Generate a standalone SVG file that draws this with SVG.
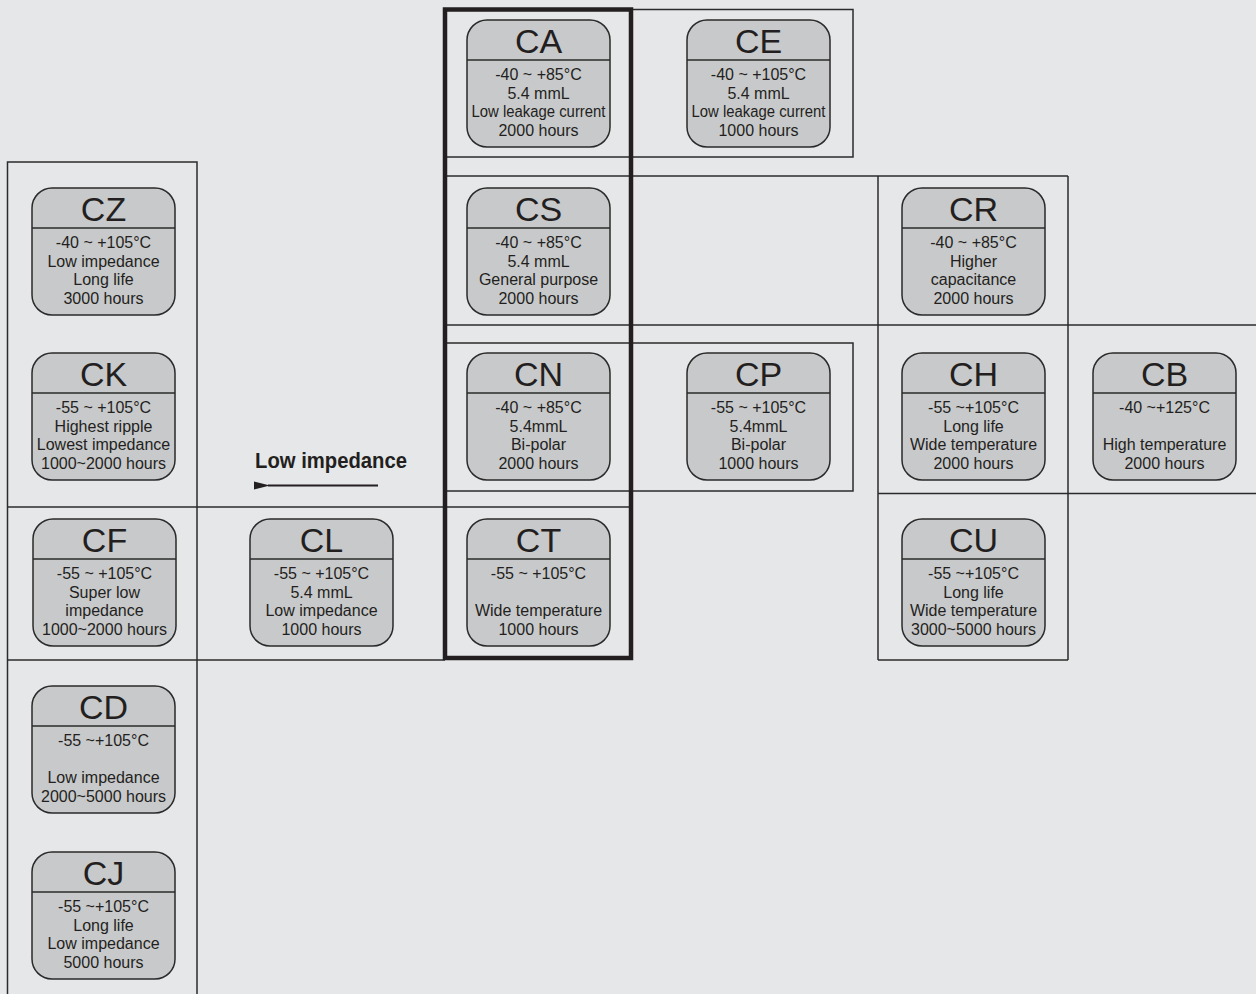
<svg xmlns="http://www.w3.org/2000/svg" width="1256" height="994" viewBox="0 0 1256 994">
<style>
.bg{fill:#e6e7e9}
.fr{fill:none;stroke:#2b2b2b;stroke-width:1.5}
.thick{fill:none;stroke:#231f20;stroke-width:4.5}
.node rect{fill:#c8c9cb;stroke:#2a2a2a;stroke-width:1.5}
.node line{stroke:#2a2a2a;stroke-width:1.5}
.t{font-family:"Liberation Sans",Arial,Helvetica,sans-serif;font-size:34px;fill:#231f20;text-anchor:middle}
.b{font-family:"Liberation Sans",Arial,Helvetica,sans-serif;font-size:16px;fill:#231f20;text-anchor:middle}
.lbl{font-family:"Liberation Sans",Arial,Helvetica,sans-serif;font-size:22px;font-weight:bold;fill:#231f20;text-anchor:middle}
</style>
<defs>
<marker id="ah" markerWidth="8" markerHeight="4" refX="1" refY="2" orient="auto" markerUnits="strokeWidth" overflow="visible">
<path d="M8,0 L0,2 L8,4 Z" fill="#231f20"/>
</marker>
</defs>
<rect class="bg" x="0" y="0" width="1256" height="994"/>
<g id="frames">
<rect class="fr" x="7.5" y="162" width="189.5" height="840"/>
<line class="fr" x1="7.5" y1="507" x2="631" y2="507"/>
<line class="fr" x1="7.5" y1="660" x2="445" y2="660"/>
<rect class="fr" x="445" y="9.5" width="408" height="147.5"/>
<line class="fr" x1="445" y1="176" x2="1068" y2="176"/>
<line class="fr" x1="445" y1="325" x2="1256" y2="325"/>
<rect class="fr" x="445" y="343" width="408" height="148"/>
<line class="fr" x1="878" y1="176" x2="878" y2="660"/>
<line class="fr" x1="1068" y1="176" x2="1068" y2="660"/>
<line class="fr" x1="878" y1="493.5" x2="1256" y2="493.5"/>
<line class="fr" x1="878" y1="660" x2="1068" y2="660"/>
<rect class="thick" x="445" y="9.5" width="186" height="648.5"/>
</g>
<g id="connectors">
<line x1="378" y1="485.5" x2="268" y2="485.5" stroke="#231f20" stroke-width="2" marker-end="url(#ah)"/>
<text class="lbl" x="331" y="468" textLength="152" lengthAdjust="spacingAndGlyphs">Low impedance</text>
</g>
<g id="CA" class="node" transform="translate(467,20)">
<rect width="143" height="127" rx="20"/><line x1="0" y1="40" x2="143" y2="40"/>
<text class="t" x="71.5" y="33">CA</text>
<text class="b" x="71.5" y="60">-40 ~ +85°C</text>
<text class="b" x="71.5" y="78.7">5.4 mmL</text>
<text class="b" x="71.5" y="97.3" textLength="134" lengthAdjust="spacingAndGlyphs">Low leakage current</text>
<text class="b" x="71.5" y="116">2000 hours</text>
</g>
<g id="CE" class="node" transform="translate(687,20)">
<rect width="143" height="127" rx="20"/><line x1="0" y1="40" x2="143" y2="40"/>
<text class="t" x="71.5" y="33">CE</text>
<text class="b" x="71.5" y="60">-40 ~ +105°C</text>
<text class="b" x="71.5" y="78.7">5.4 mmL</text>
<text class="b" x="71.5" y="97.3" textLength="134" lengthAdjust="spacingAndGlyphs">Low leakage current</text>
<text class="b" x="71.5" y="116">1000 hours</text>
</g>
<g id="CZ" class="node" transform="translate(32,188)">
<rect width="143" height="127" rx="20"/><line x1="0" y1="40" x2="143" y2="40"/>
<text class="t" x="71.5" y="33">CZ</text>
<text class="b" x="71.5" y="60">-40 ~ +105°C</text>
<text class="b" x="71.5" y="78.7">Low impedance</text>
<text class="b" x="71.5" y="97.3">Long life</text>
<text class="b" x="71.5" y="116">3000 hours</text>
</g>
<g id="CS" class="node" transform="translate(467,188)">
<rect width="143" height="127" rx="20"/><line x1="0" y1="40" x2="143" y2="40"/>
<text class="t" x="71.5" y="33">CS</text>
<text class="b" x="71.5" y="60">-40 ~ +85°C</text>
<text class="b" x="71.5" y="78.7">5.4 mmL</text>
<text class="b" x="71.5" y="97.3">General purpose</text>
<text class="b" x="71.5" y="116">2000 hours</text>
</g>
<g id="CR" class="node" transform="translate(902,188)">
<rect width="143" height="127" rx="20"/><line x1="0" y1="40" x2="143" y2="40"/>
<text class="t" x="71.5" y="33">CR</text>
<text class="b" x="71.5" y="60">-40 ~ +85°C</text>
<text class="b" x="71.5" y="78.7">Higher</text>
<text class="b" x="71.5" y="97.3">capacitance</text>
<text class="b" x="71.5" y="116">2000 hours</text>
</g>
<g id="CK" class="node" transform="translate(32,353)">
<rect width="143" height="127" rx="20"/><line x1="0" y1="40" x2="143" y2="40"/>
<text class="t" x="71.5" y="33">CK</text>
<text class="b" x="71.5" y="60">-55 ~ +105°C</text>
<text class="b" x="71.5" y="78.7">Highest ripple</text>
<text class="b" x="71.5" y="97.3">Lowest impedance</text>
<text class="b" x="71.5" y="116">1000~2000 hours</text>
</g>
<g id="CN" class="node" transform="translate(467,353)">
<rect width="143" height="127" rx="20"/><line x1="0" y1="40" x2="143" y2="40"/>
<text class="t" x="71.5" y="33">CN</text>
<text class="b" x="71.5" y="60">-40 ~ +85°C</text>
<text class="b" x="71.5" y="78.7">5.4mmL</text>
<text class="b" x="71.5" y="97.3">Bi-polar</text>
<text class="b" x="71.5" y="116">2000 hours</text>
</g>
<g id="CP" class="node" transform="translate(687,353)">
<rect width="143" height="127" rx="20"/><line x1="0" y1="40" x2="143" y2="40"/>
<text class="t" x="71.5" y="33">CP</text>
<text class="b" x="71.5" y="60">-55 ~ +105°C</text>
<text class="b" x="71.5" y="78.7">5.4mmL</text>
<text class="b" x="71.5" y="97.3">Bi-polar</text>
<text class="b" x="71.5" y="116">1000 hours</text>
</g>
<g id="CH" class="node" transform="translate(902,353)">
<rect width="143" height="127" rx="20"/><line x1="0" y1="40" x2="143" y2="40"/>
<text class="t" x="71.5" y="33">CH</text>
<text class="b" x="71.5" y="60">-55 ~+105°C</text>
<text class="b" x="71.5" y="78.7">Long life</text>
<text class="b" x="71.5" y="97.3">Wide temperature</text>
<text class="b" x="71.5" y="116">2000 hours</text>
</g>
<g id="CB" class="node" transform="translate(1093,353)">
<rect width="143" height="127" rx="20"/><line x1="0" y1="40" x2="143" y2="40"/>
<text class="t" x="71.5" y="33">CB</text>
<text class="b" x="71.5" y="60">-40 ~+125°C</text>
<text class="b" x="71.5" y="97.3">High temperature</text>
<text class="b" x="71.5" y="116">2000 hours</text>
</g>
<g id="CF" class="node" transform="translate(33,519)">
<rect width="143" height="127" rx="20"/><line x1="0" y1="40" x2="143" y2="40"/>
<text class="t" x="71.5" y="33">CF</text>
<text class="b" x="71.5" y="60">-55 ~ +105°C</text>
<text class="b" x="71.5" y="78.7">Super low</text>
<text class="b" x="71.5" y="97.3">impedance</text>
<text class="b" x="71.5" y="116">1000~2000 hours</text>
</g>
<g id="CL" class="node" transform="translate(250,519)">
<rect width="143" height="127" rx="20"/><line x1="0" y1="40" x2="143" y2="40"/>
<text class="t" x="71.5" y="33">CL</text>
<text class="b" x="71.5" y="60">-55 ~ +105°C</text>
<text class="b" x="71.5" y="78.7">5.4 mmL</text>
<text class="b" x="71.5" y="97.3">Low impedance</text>
<text class="b" x="71.5" y="116">1000 hours</text>
</g>
<g id="CT" class="node" transform="translate(467,519)">
<rect width="143" height="127" rx="20"/><line x1="0" y1="40" x2="143" y2="40"/>
<text class="t" x="71.5" y="33">CT</text>
<text class="b" x="71.5" y="60">-55 ~ +105°C</text>
<text class="b" x="71.5" y="97.3">Wide temperature</text>
<text class="b" x="71.5" y="116">1000 hours</text>
</g>
<g id="CU" class="node" transform="translate(902,519)">
<rect width="143" height="127" rx="20"/><line x1="0" y1="40" x2="143" y2="40"/>
<text class="t" x="71.5" y="33">CU</text>
<text class="b" x="71.5" y="60">-55 ~+105°C</text>
<text class="b" x="71.5" y="78.7">Long life</text>
<text class="b" x="71.5" y="97.3">Wide temperature</text>
<text class="b" x="71.5" y="116">3000~5000 hours</text>
</g>
<g id="CD" class="node" transform="translate(32,686)">
<rect width="143" height="127" rx="20"/><line x1="0" y1="40" x2="143" y2="40"/>
<text class="t" x="71.5" y="33">CD</text>
<text class="b" x="71.5" y="60">-55 ~+105°C</text>
<text class="b" x="71.5" y="97.3">Low impedance</text>
<text class="b" x="71.5" y="116">2000~5000 hours</text>
</g>
<g id="CJ" class="node" transform="translate(32,852)">
<rect width="143" height="127" rx="20"/><line x1="0" y1="40" x2="143" y2="40"/>
<text class="t" x="71.5" y="33">CJ</text>
<text class="b" x="71.5" y="60">-55 ~+105°C</text>
<text class="b" x="71.5" y="78.7">Long life</text>
<text class="b" x="71.5" y="97.3">Low impedance</text>
<text class="b" x="71.5" y="116">5000 hours</text>
</g>
</svg>
